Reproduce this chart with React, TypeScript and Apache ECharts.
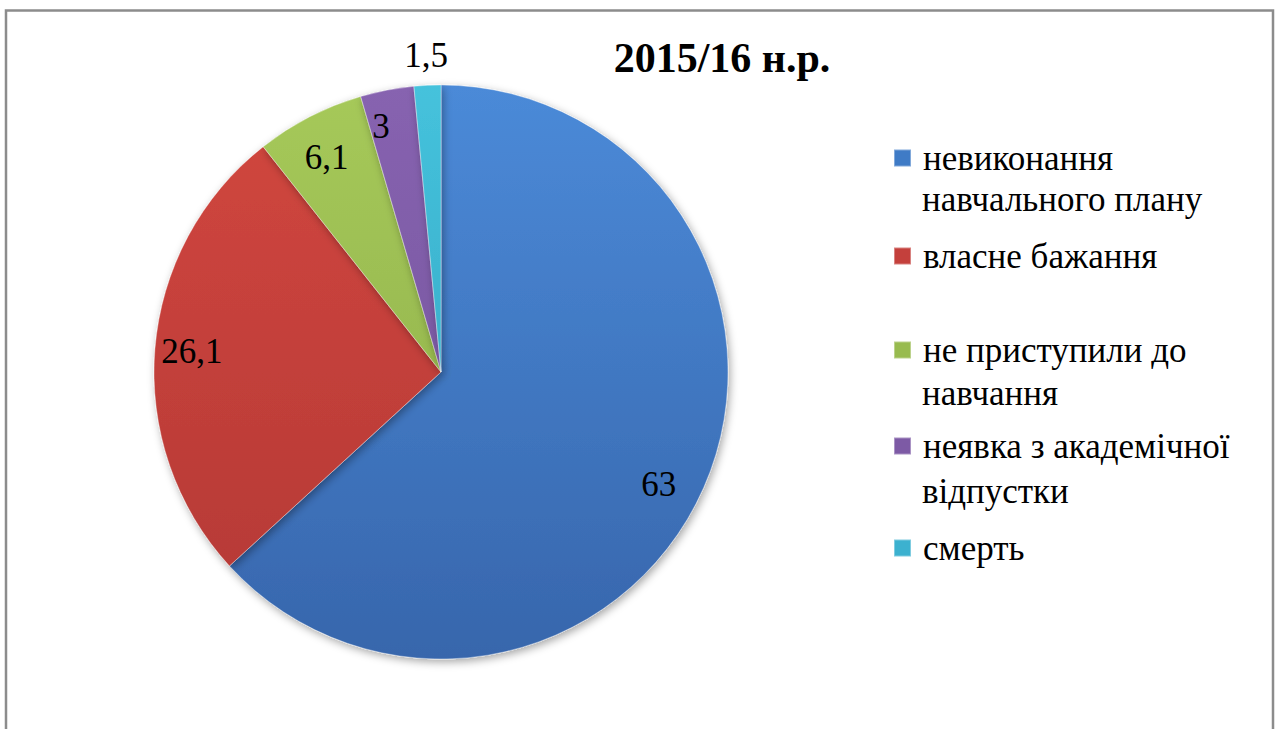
import React, { useEffect, useRef } from "react";
import * as echarts from "echarts";

const categories = [
  "невиконання навчального плану",
  "власне бажання",
  "не приступили до навчання",
  "неявка з академічної відпустки",
  "смерть",
];
const legendFirstLines = [
  "невиконання",
  "власне бажання",
  "не приступили до",
  "неявка з академічної",
  "смерть",
];
const legendSecondLines = ["навчального плану", "", "навчання", "відпустки", ""];
const values = [63, 26.1, 6.1, 3, 1.5];
const valueLabels = ["63", "26,1", "6,1", "3", "1,5"];
const topColors = ["#4b8ad8", "#d2473f", "#a6c95a", "#8763b0", "#45c2dc"];
const bottomColors = ["#3766ac", "#b33835", "#8bab45", "#6f4f98", "#2f9fbd"];
const flatColors = ["#3f7bc6", "#c4403c", "#98bb4f", "#7d5aa5", "#3cb1cf"];
const legendLineY = [160, 258, 352, 448, 550];
const legendSecondY = [203, 0, 397, 495, 0];
const labelPads = [
  [24, 22, 0, 0],
  [0, 0, 0, 0],
  [16, 0, 0, 0],
  [0, 26, 0, 0],
  [0, 0, 0, 0],
];

const FONT = "'Liberation Serif', serif";

export default function App() {
  const ref = useRef<HTMLDivElement>(null);
  useEffect(() => {
    if (!ref.current) return;
    const chart = echarts.init(ref.current, undefined, { renderer: "svg" });
    const cx = 441;
    const cy = 372;
    const R = 287;
    const mainData = categories.map((name, i) => ({
      name,
      value: values[i],
      itemStyle: {
        color: new echarts.graphic.LinearGradient(
          0, cy - R, 0, cy + R,
          [
            { offset: 0, color: topColors[i] },
            { offset: 1, color: bottomColors[i] },
          ],
          true
        ),
      },
    }));
    const labelData = (showIdx: (i: number) => boolean) =>
      categories.map((name, i) => ({
        name,
        value: values[i],
        label: { show: showIdx(i) },
      }));
    const labelSeriesBase = {
      type: "pie",
      center: [cx, cy],
      startAngle: 90,
      clockwise: true,
      silent: true,
      avoidLabelOverlap: false,
      labelLayout: { hideOverlap: false },
      itemStyle: { color: "rgba(0,0,0,0)", borderWidth: 0 },
      emphasis: { disabled: true },
      labelLine: { show: false },
      label: {
        position: "inside",
        color: "#000",
        fontFamily: FONT,
        fontSize: 35,
        formatter: (p: any) => "{v" + p.dataIndex + "|" + valueLabels[p.dataIndex] + "}",
        rich: Object.fromEntries(
          labelPads.map((pad, i) => [
            "v" + i,
            { fontFamily: FONT, fontSize: 35, color: "#000", padding: pad },
          ])
        ),
      },
    };
    const secondLines = legendSecondLines
      .map((t, i) => ({ t, i }))
      .filter((o) => o.t)
      .map((o) => ({
        type: "text",
        x: 922,
        y: legendSecondY[o.i] - 4,
        silent: true,
        style: {
          text: o.t,
          fontFamily: FONT,
          fontSize: 35,
          fill: "#000",
          verticalAlign: "middle",
          align: "left",
        },
      }));
    chart.setOption({
      animation: false,
      backgroundColor: "#ffffff",
      textStyle: { fontFamily: FONT },
      title: {
        text: "2015/16 н.р.",
        left: 722,
        top: 37,
        textAlign: "center",
        padding: 0,
        textStyle: {
          fontFamily: FONT,
          fontSize: 42,
          fontWeight: "bold",
          color: "#000",
        },
      },
      legend: categories.map((name, i) => ({
        data: [{ name, icon: "rect", itemStyle: { color: flatColors[i] } }],
        left: 893,
        top: legendLineY[i] - 30,
        orient: "vertical",
        padding: 0,
        itemWidth: 17,
        itemHeight: 17,
        selectedMode: false,
        formatter: () => legendFirstLines[i],
        textStyle: {
          fontFamily: FONT,
          fontSize: 35,
          lineHeight: 44,
          color: "#000",
          padding: [0, 0, 12, 7],
        },
      })),
      graphic: [
        {
          type: "rect",
          shape: { x: 6, y: 10.5, width: 1267, height: 780 },
          style: { fill: "none", stroke: "#8c8c8c", lineWidth: 2.5 },
          silent: true,
        },
        ...secondLines,
      ],
      series: [
        {
          type: "pie",
          center: [cx, cy],
          radius: R,
          startAngle: 90,
          clockwise: true,
          avoidLabelOverlap: false,
          label: { show: false },
          labelLine: { show: false },
          emphasis: { disabled: true },
          itemStyle: {
            borderColor: "rgba(255,255,255,0.35)",
            borderWidth: 1,
            shadowBlur: 8,
            shadowColor: "rgba(0,0,0,0.35)",
            shadowOffsetX: 2,
            shadowOffsetY: 3,
          },
          data: mainData,
        },
        {
          ...labelSeriesBase,
          radius: [R * 0.72, R],
          data: labelData((i) => i < 4),
        },
        {
          ...labelSeriesBase,
          radius: [R + 12, R + 42],
          data: labelData((i) => i === 4),
        },
      ],
    });
    return () => chart.dispose();
  }, []);
  return (
    <div
      ref={ref}
      style={{ position: "fixed", left: 0, top: 0, width: 1278, height: 729 }}
    />
  );
}
